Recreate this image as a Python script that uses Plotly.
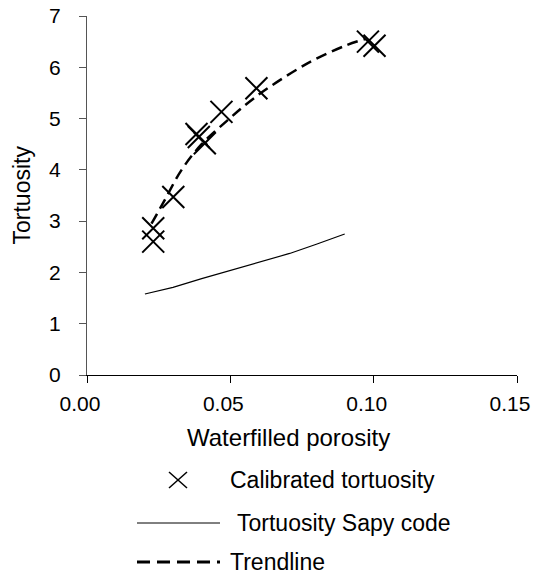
import plotly.graph_objects as go

# Data
calib_x = [0.0231, 0.0231, 0.0301, 0.0382, 0.0390, 0.0411, 0.0469, 0.0591, 0.0980, 0.1003]
calib_y = [2.86, 2.60, 3.47, 4.70, 4.64, 4.52, 5.13, 5.59, 6.50, 6.42]

sapy_x = [0.0202, 0.030, 0.040, 0.050, 0.060, 0.0707, 0.080, 0.0899]
sapy_y = [1.58, 1.71, 1.88, 2.04, 2.20, 2.37, 2.55, 2.75]

trend_x = [0.0225, 0.027, 0.033, 0.040, 0.0487, 0.056, 0.0638, 0.0777, 0.0905, 0.097]
trend_y = [2.95, 3.40, 4.00, 4.50, 4.95, 5.30, 5.62, 6.10, 6.43, 6.55]

x_ticks = [0.0, 0.05, 0.10, 0.15]
x_ticklabels = ["0.00", "0.05", "0.10", "0.15"]
y_ticks = [0, 1, 2, 3, 4, 5, 6, 7]

legend_labels = ["Calibrated tortuosity", "Tortuosity Sapy code", "Trendline"]

FONT = "Liberation Sans, Arial, sans-serif"

fig = go.Figure()
fig.add_trace(go.Scatter(x=sapy_x, y=sapy_y, mode="lines",
                         line=dict(color="black", width=1.2), showlegend=False))
fig.add_trace(go.Scatter(x=trend_x, y=trend_y, mode="lines", line_shape="spline",
                         line=dict(color="black", width=2.5, dash="11px,6px"), showlegend=False))
fig.add_trace(go.Scatter(x=calib_x, y=calib_y, mode="markers",
                         marker=dict(symbol="x-thin-open", size=22, color="black",
                                     line=dict(color="black", width=2)),
                         showlegend=False))

L, R, T, B = 87, 19, 16, 202
W, H = 536, 577
pw, ph = W - L - R, H - T - B

def px(x):
    return (x - L) / pw

def py(y):
    return (H - B - y) / ph

# Axis titles
fig.add_annotation(x=px(288), y=py(437), xref="paper", yref="paper", text="Waterfilled porosity",
                   showarrow=False, font=dict(size=24, family=FONT, color="black"),
                   xanchor="center", yanchor="middle")
fig.add_annotation(x=px(21), y=0.5, xref="paper", yref="paper", text="Tortuosity",
                   showarrow=False, textangle=-90, font=dict(size=23, family=FONT, color="black"),
                   xanchor="center", yanchor="middle")

# Manual legend
rows = [480, 523, 562]
text_left = [228, 235, 228]
for lab, ry, tl in zip(legend_labels, rows, text_left):
    fig.add_annotation(x=px(tl), y=py(ry), xref="paper", yref="paper", text=lab,
                       showarrow=False, font=dict(size=23, family=FONT, color="black"),
                       xanchor="left", yanchor="middle")
# marker symbol
fig.add_shape(type="line", xref="paper", yref="paper", x0=px(169), x1=px(187),
              y0=py(472), y1=py(488), line=dict(color="black", width=1.5))
fig.add_shape(type="line", xref="paper", yref="paper", x0=px(169), x1=px(187),
              y0=py(488), y1=py(472), line=dict(color="black", width=1.5))
# solid line symbol
fig.add_shape(type="line", xref="paper", yref="paper", x0=px(137), x1=px(220),
              y0=py(523), y1=py(523), line=dict(color="black", width=1))
# dashed line symbol
fig.add_shape(type="line", xref="paper", yref="paper", x0=px(137), x1=px(220),
              y0=py(562), y1=py(562), line=dict(color="black", width=3, dash="13px,7px"))

fig.update_layout(
    width=W, height=H,
    margin=dict(l=L, r=R, t=T, b=B, autoexpand=False),
    paper_bgcolor="white", plot_bgcolor="white",
    font=dict(family=FONT, color="black"),
    xaxis=dict(range=[0, 0.15], tickvals=x_ticks, ticktext=x_ticklabels, automargin=False,
               showgrid=False, zeroline=False, showline=True, linecolor="black", linewidth=1,
               ticks="outside", ticklen=7, tickcolor="black", tickwidth=1,
               tickfont=dict(size=21, family=FONT, color="black"),
               ticklabelshift=-7, ticklabelstandoff=3),
    yaxis=dict(range=[0, 7], tickvals=y_ticks, automargin=False,
               showgrid=False, zeroline=False, showline=True, linecolor="#555", linewidth=1,
               ticks="outside", ticklen=7, tickcolor="#555", tickwidth=1,
               tickfont=dict(size=21, family=FONT, color="black"),
               ticklabelstandoff=14),
)

fig.write_html("out.html")
